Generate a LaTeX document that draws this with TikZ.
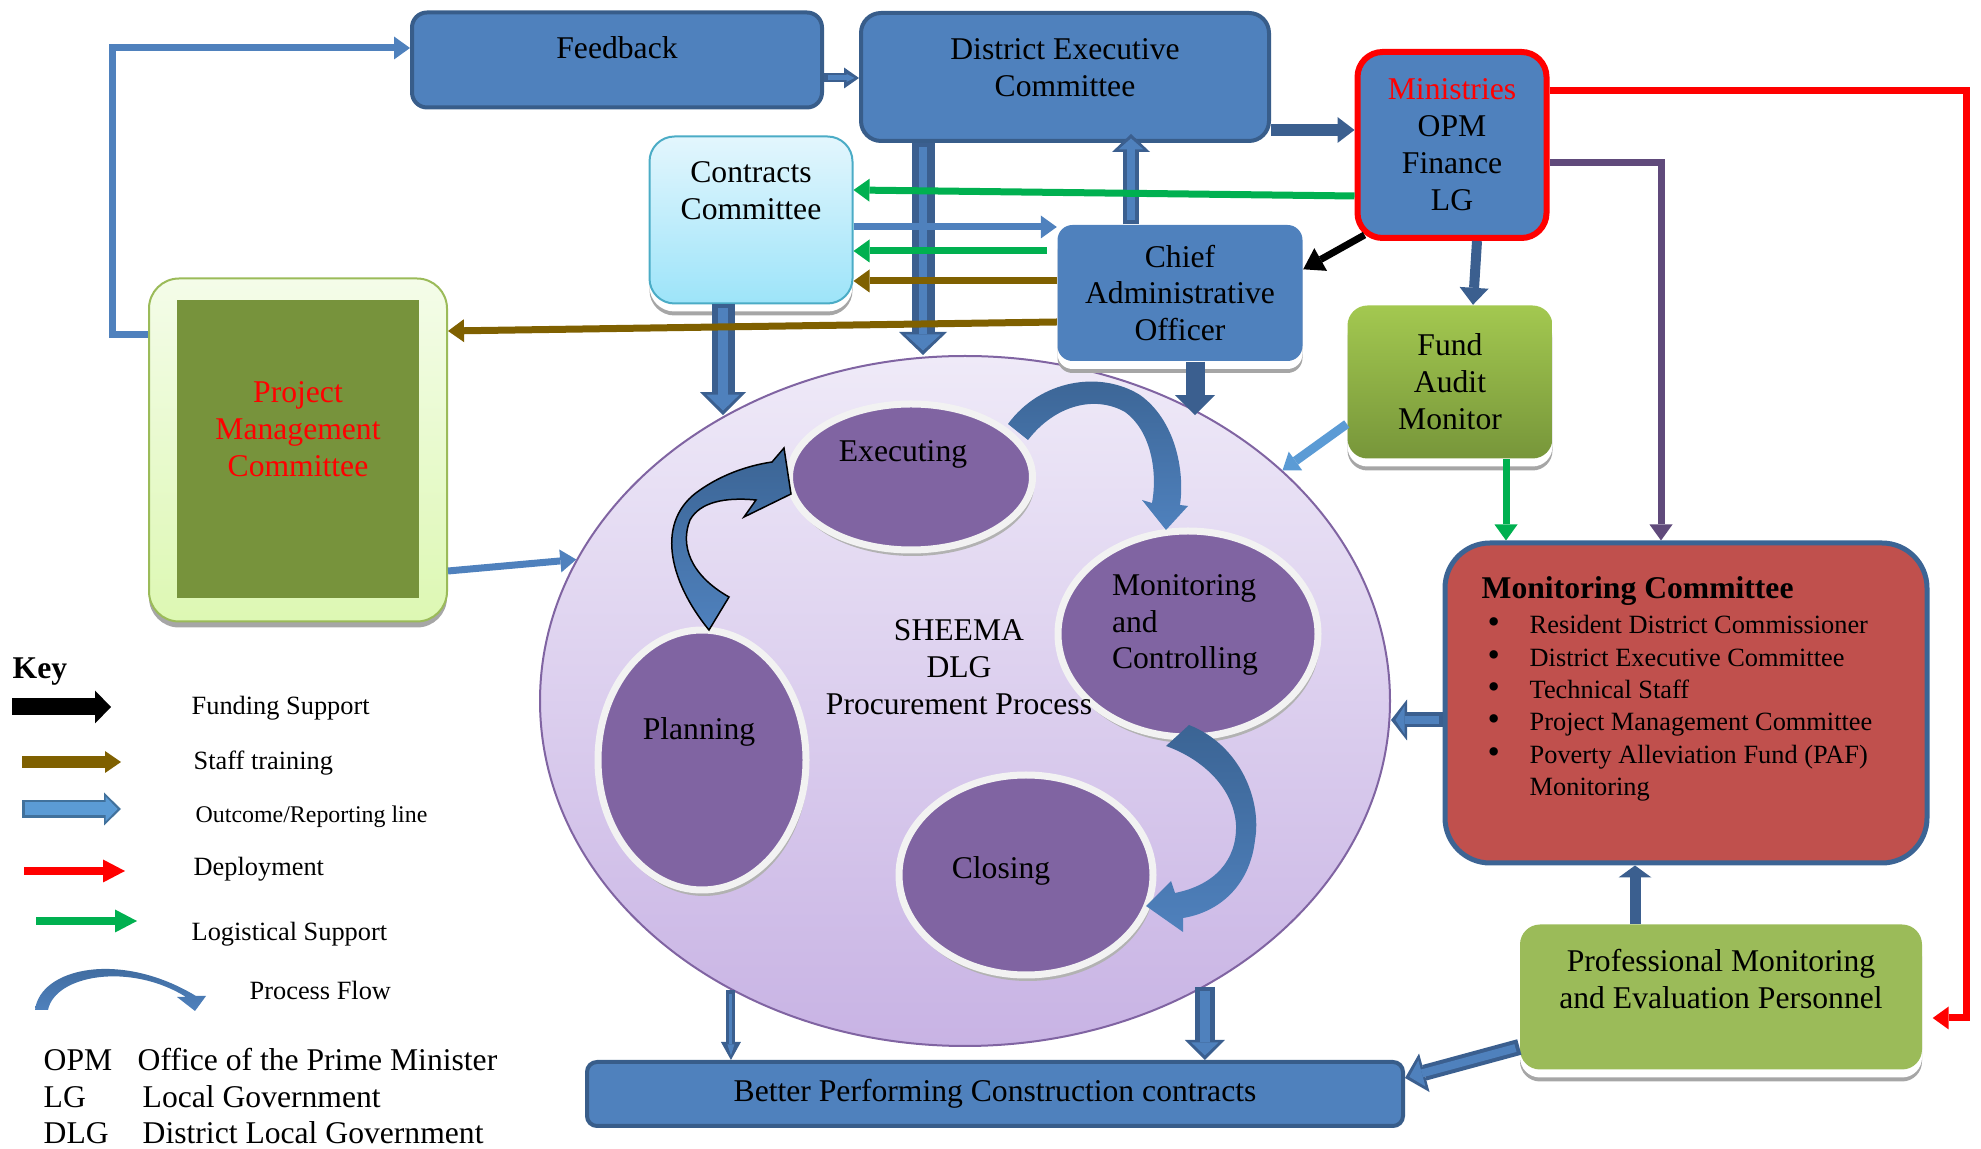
\documentclass[tikz,border=0pt]{standalone}
\usepackage{fontspec}
\setmainfont{Liberation Serif}
\usetikzlibrary{arrows.meta, shapes.geometric, shadows, calc, positioning}
\definecolor{boxblue}{HTML}{4F81BD}
\definecolor{boxedge}{HTML}{385D8A}
\definecolor{arrdark}{HTML}{3B5F8F}
\definecolor{arrlight}{HTML}{5B9BD5}
\definecolor{keyedge}{HTML}{41719C}
\definecolor{flowdark}{HTML}{3B6494}
\definecolor{logreen}{HTML}{00B050}
\definecolor{stbrown}{HTML}{7F6000}
\definecolor{mpurple}{HTML}{604A7B}
\definecolor{procviolet}{HTML}{8064A2}
\definecolor{mcred}{HTML}{C0504D}
\definecolor{mcedge}{HTML}{3C6494}
\definecolor{olivegr}{HTML}{77933C}
\definecolor{leafgr}{HTML}{9BBB59}
\definecolor{cctop}{HTML}{E3F6FD}
\definecolor{ccbot}{HTML}{9DE4F9}
\definecolor{ccedge}{HTML}{4BACC6}
\definecolor{fambright}{HTML}{A3C850}
\definecolor{famdark}{HTML}{77963A}
\definecolor{pmctop}{HTML}{F4FCE9}
\definecolor{pmcbot}{HTML}{DDF8B3}
\definecolor{sheematop}{HTML}{EFEAF8}
\definecolor{sheemabot}{HTML}{C8B3E4}
\newcommand\mainsize{\fontsize{9}{10.5}\selectfont}
\newcommand\keysize{\fontsize{7.5}{9}\selectfont}
\newcommand\mcbullet{\hspace*{0.6mm}\makebox[4.2mm][l]{\fontsize{10}{9.2}\selectfont\textbullet}}
\tikzset{
  % blue rounded boxes
  bluebox/.style={draw=boxedge, line width=0.4mm, fill=boxblue, rounded corners=2mm, align=center},
  % boxes lifted by a white rim and a grey shadow
  liftbox/.style={rounded corners=2mm, align=center,
    drop shadow={shadow xshift=0mm, shadow yshift=-1.2mm, fill=black!35, opacity=1},
    drop shadow={shadow xshift=0mm, shadow yshift=-0.8mm, fill=white, opacity=1}},
  boxtxt/.style={align=center, inner sep=0pt},
  % phases of the procurement process
  phase/.style={ellipse, fill=procviolet, draw=black!5, line width=0.7mm,
    drop shadow={shadow xshift=0.2mm, shadow yshift=-0.6mm, fill=black!30, opacity=1}},
  procarrow/.style={top color=flowdark, bottom color=boxblue},
  % plain connectors
  link/.style={line width=0.7mm, -{Triangle[length=1.6mm, width=2.3mm, line width=0pt]}},
  % key
  keylbl/.style={font=\keysize, inner sep=0pt, anchor=west},
}

\begin{document}
\begin{tikzpicture}[x=0.1mm, y=-0.1mm, every node/.style={font=\mainsize}]
  \useasboundingbox (0,0) rectangle (1981,1149);
  % procurement process
  \node[ellipse, draw=procviolet, line width=0.2mm, top color=sheematop, bottom color=sheemabot,
    minimum width=85mm, minimum height=69mm] (sheema) at (965,701) {};
  \node[phase, minimum width=24.3mm, minimum height=14.6mm] (exe) at (911,477) {};
  \node[phase, minimum width=26mm, minimum height=20.6mm] (mon) at (1188,634) {};
  \node[phase, minimum width=20.8mm, minimum height=26mm] (pla) at (702,760) {};
  \node[phase, minimum width=25.4mm, minimum height=20mm] (clo) at (1026,875) {};
  % process flow
  \path[procarrow, draw=black, line width=0.15mm] (709,630) .. controls (668,580) and (655,520) .. (700,490)
    .. controls (720,476) and (745,466) .. (772,462) -- (784,448) -- (791,494) -- (744,517) -- (756,500)
    .. controls (725,497) and (700,502) .. (690,520) .. controls (680,545) and (690,575) .. (729,597) -- cycle;
  \path[procarrow] (1008,424) .. controls (1040,380) and (1100,370) .. (1140,395)
    .. controls (1175,420) and (1185,470) .. (1180,505) -- (1188,506) -- (1166,530) -- (1142,500) -- (1152,503)
    .. controls (1158,470) and (1150,430) .. (1125,412) .. controls (1095,395) and (1055,405) .. (1028,440) -- cycle;
  \path[procarrow] (1166,746) -- (1189,725) .. controls (1240,745) and (1262,800) .. (1255,840)
    .. controls (1250,885) and (1220,912) .. (1183,918) -- (1183,932) -- (1146,906) -- (1171,881) -- (1175,893)
    .. controls (1215,885) and (1237,860) .. (1236,825) .. controls (1234,790) and (1205,760) .. (1166,746) -- cycle;
  \node[boxtxt] (exetxt) at ([xshift=-0.8mm, yshift=2.3mm]exe.center) {Executing};
  \node[boxtxt, align=left] (montxt) at ([xshift=-0.3mm, yshift=0.9mm]mon.center) {Monitoring\\and\\Controlling};
  \node[boxtxt] (platxt) at ([xshift=-0.3mm, yshift=2.8mm]pla.center) {Planning};
  \node[boxtxt] (clotxt) at ([xshift=-2.5mm, yshift=0.4mm]clo.center) {Closing};
  \node[boxtxt] (ptitle) at ([xshift=-0.6mm, yshift=3.4mm]sheema.center) {SHEEMA\\DLG\\Procurement Process};

  % boxes
  \node[bluebox, minimum width=41mm, minimum height=9.5mm, rounded corners=1.5mm] (fbk) at (617,60) {};
  \node[boxtxt] (fbktxt) at ([yshift=1.2mm]fbk.center) {Feedback};
  \node[bluebox, minimum width=40.8mm, minimum height=12.8mm] (dec) at (1065,77) {};
  \node[boxtxt] (dectxt) at ([yshift=0.9mm]dec.center) {District Executive\\Committee};
  \node[bluebox, draw=red, line width=0.6mm, minimum width=18.9mm, minimum height=18.6mm,
    rounded corners=2.5mm] (min) at (1452,145) {{\color{red}Ministries}\\OPM\\Finance\\LG};
  \node[liftbox, fill=boxblue, minimum width=24.5mm, minimum height=13.6mm, rounded corners=1.5mm] (cao)
    at (1180,293) {Chief\\Administrative\\Officer};
  \node[liftbox, top color=fambright, bottom color=famdark, minimum width=20.5mm, minimum height=15.3mm] (fam)
    at (1450,382) {Fund\\Audit\\Monitor};
  \node[liftbox, draw=ccedge, line width=0.2mm, top color=cctop, bottom color=ccbot, minimum width=20.3mm,
    minimum height=16.7mm, rounded corners=2.5mm] (cc) at (751,220) {};
  \node[boxtxt] (cctxt) at ([yshift=2.9mm]cc.center) {Contracts\\Committee};
  \node[draw=leafgr, line width=0.2mm, top color=pmctop, bottom color=pmcbot, rounded corners=3mm,
    minimum width=29.8mm, minimum height=34.3mm,
    drop shadow={shadow xshift=0mm, shadow yshift=-0.6mm, fill=black!35, opacity=1}] (pmcbox) at (298,450) {};
  \node[fill=olivegr, minimum width=24.2mm, minimum height=29.8mm] (pmc) at (298,449) {};
  \node[boxtxt, text=red] (pmctxt) at ([yshift=2mm]pmc.center) {Project\\Management\\Committee};
  \node[draw=mcedge, line width=0.5mm, fill=mcred, rounded corners=4.5mm, minimum width=48.2mm,
    minimum height=32mm] (mc) at (1686,703) {};
  \node[anchor=base west, inner sep=0pt, font=\bfseries\mainsize] (mctitle) at (1481,599) {Monitoring Committee};
  \node[anchor=north west, inner sep=0pt, align=left, font=\fontsize{7.5}{9.2}\selectfont] (mcitems) at (1481,615)
    {\mcbullet Resident District Commissioner\\
     \mcbullet District Executive Committee\\
     \mcbullet Technical Staff\\
     \mcbullet Project Management Committee\\
     \mcbullet Poverty Alleviation Fund (PAF)\\
     \hspace*{4.8mm}Monitoring};
  \node[liftbox, fill=leafgr, minimum width=40.2mm, minimum height=14.5mm] (pmep) at (1721,997) {};
  \node[boxtxt] (pmeptxt) at ([yshift=1.8mm]pmep.center) {Professional Monitoring\\and Evaluation Personnel};
  \node[bluebox, minimum width=81.6mm, minimum height=6.4mm, rounded corners=1mm] (bpc) at (995,1094)
    {Better Performing Construction contracts};

  % ends of the block arrows
  \coordinate (decdn) at ([xshift=-14.2mm]dec.south);
  \coordinate (elldec) at (decdn |- sheema.north);
  \coordinate (caoup) at ([xshift=-4.9mm]cao.north);
  \coordinate (decbot) at ([yshift=0.9mm]caoup |- dec.south);
  \coordinate (ccdn) at ([xshift=-2.8mm]cc.south);
  \coordinate (ellcc) at (ccdn |- sheema.130);
  \coordinate (mcleft) at ([yshift=-1.7mm]mc.west);
  \coordinate (ellmc) at (mcleft -| sheema.east);
  \coordinate (pmepleft) at ([yshift=-5mm]pmep.west);
  \coordinate (bpcright) at ([yshift=1.6mm]bpc.east);
  \coordinate (ellbr) at (sheema.-50);
  \coordinate (bpctr) at (ellbr |- bpc.north);
  \coordinate (ellbl) at (sheema.-129);
  \coordinate (bpctl) at (ellbl |- bpc.north);
  \coordinate (fbkright) at ([yshift=-1.8mm]fbk.east);
  \coordinate (decleft) at (fbkright -| dec.west);
  \coordinate (decright) at ([yshift=-5.3mm]dec.east);
  \coordinate (minleft) at (decright -| min.west);
  \coordinate (caodn) at ([xshift=1.5mm]cao.south);
  \coordinate (ellcao) at (caodn |- sheema.50);
  \coordinate (minfund) at ([xshift=2.5mm]min.south);
  \coordinate (famin) at ([xshift=2.3mm]fam.north);
  \coordinate (pmepup) at ([xshift=-8.6mm]pmep.north);
  \coordinate (mcbot) at (pmepup |- mc.south);

  % outlined block arrows
  \foreach \src/\dst/\outw/\inw/\tipl/\tipw in {decdn/elldec/2.3mm/0.8mm/2.3mm/4.8mm,
      caoup/decbot/1.6mm/0.8mm/1.8mm/3.8mm, ccdn/ellcc/2.3mm/1mm/2.3mm/4.6mm,
      mcleft/ellmc/1.5mm/0.8mm/1.6mm/4.1mm, pmepleft/bpcright/1.6mm/0.8mm/2mm/4mm,
      ellbr/bpctr/2mm/1mm/2mm/4mm, ellbl/bpctl/0.9mm/0.3mm/1.8mm/2mm, fbkright/decleft/0.9mm/0.5mm/1.5mm/2.1mm} {
    \pgfmathsetlengthmacro\inl{\tipl-0.7mm}
    \pgfmathsetlengthmacro\inwd{\tipw-1.3mm}
    \draw[arrdark, line width=\outw, -{Triangle[length=\tipl, width=\tipw, line width=0pt]}] (\src) -- (\dst);
    \draw[boxblue, line width=\inw, shorten <=0.4mm, shorten >=0.45mm,
      -{Triangle[length=\inl, width=\inwd, line width=0pt]}] (\src) -- (\dst);
  }
  % solid block arrows
  \foreach \src/\dst/\shw/\tipl/\tipw in {decright/minleft/1.2mm/1.7mm/2.6mm, caodn/ellcao/1.9mm/2mm/4mm,
      minfund/famin/1mm/1.7mm/2.9mm, pmepup/mcbot/1.1mm/1.2mm/3.3mm}
    \draw[arrdark, line width=\shw, -{Triangle[length=\tipl, width=\tipw, line width=0pt]}] (\src) -- (\dst);

  % thin connectors
  \draw[link, logreen] ([yshift=-5.1mm]min.west) -- ([yshift=3mm]cc.east);
  \draw[link, boxblue] ([yshift=-0.7mm]cc.east) -- ([yshift=-0.7mm]cc.east -| cao.west);
  \draw[link, logreen, shorten <=1mm] ([yshift=4.2mm]cao.west) -- ([yshift=4.2mm]cao.west -| cc.east);
  \draw[link, stbrown] ([yshift=1.2mm]cao.west) -- ([yshift=1.2mm]cao.west -| cc.east);
  \draw[link, stbrown] ([yshift=-2.9mm]cao.west) -- ([yshift=11.9mm]pmcbox.east);
  \draw[link, black, -{Triangle[length=2mm, width=2.6mm, line width=0pt]}]
    ([shift={(1mm,0.6mm)}]min.south west) -- ([yshift=-4.5mm]cao.north east);
  \draw[link, mpurple] ([yshift=-1.8mm]min.east) -| ([xshift=-2.5mm]mc.north);
  \draw[link, red, shorten >=1mm] ([yshift=5.4mm]min.east) -- ++(417,0) |- ([yshift=-2.1mm]pmep.east);
  \draw[link, boxblue] ([yshift=11.5mm]pmcbox.west) -- ++(-36,0) |- ([yshift=1.2mm]fbk.west);
  \draw[link, arrlight, line width=0.9mm] ([yshift=-4.2mm]fam.west) -- (sheema.36);
  \draw[link, logreen] ([xshift=5.6mm]fam.south) -- ([xshift=5.6mm]fam.south |- mc.north);
  \draw[link, boxblue] ([yshift=-12.1mm]pmcbox.east) -- (sheema.160);

  % key
  \node[anchor=west, inner sep=0pt, font=\bfseries\mainsize] (key) at (12,672) {Key};
  \foreach \n/\ax/\ay/\tx/\ty/\txt in {fund/12/707/191/708/Funding Support, staff/22/762/193/763/Staff training,
      outc/22/809/195/817/{\fontsize{6.8}{8}\selectfont Outcome/Reporting line}, depl/24/871/193/869/Deployment,
      logi/36/921/191/934/Logistical Support, flow/35/1010/249/990/Process Flow} {
    \coordinate (k\n) at (\ax,\ay);
    \node[keylbl] (t\n) at (\tx,\ty) {\txt};
  }
  \draw[black, line width=1.7mm, -{Triangle[length=1.6mm, width=3.3mm, line width=0pt]}] (kfund) -- ++(99,0);
  \draw[stbrown, line width=1.2mm, -{Triangle[length=1.6mm, width=2.2mm, line width=0pt]}] (kstaff) -- ++(99,0);
  \draw[keyedge, line width=1.8mm, -{Triangle[length=1.7mm, width=3.3mm, line width=0pt]}] (koutc) -- ++(99,0);
  \draw[arrlight, line width=1.3mm, shorten <=0.25mm, shorten >=0.35mm,
    -{Triangle[length=1.2mm, width=2.5mm, line width=0pt]}] (koutc) -- ++(99,0);
  \draw[red, line width=0.8mm, -{Triangle[length=2.2mm, width=2.3mm, line width=0pt]}] (kdepl) -- ++(101,0);
  \draw[logreen, line width=0.8mm, -{Triangle[length=2.2mm, width=2.3mm, line width=0pt]}] (klogi) -- ++(101,0);
  \path[procarrow] (kflow) .. controls (40,968) and (120,950) .. (196,996) -- (206,996) -- (195,1011)
    -- (177,997) -- (186,997) .. controls (130,962) and (55,975) .. (48,1010) -- cycle;
  \foreach \abb/\full/\fx/\ty [count=\i] in {OPM/Office of the Prime Minister/137/1060,
      LG/Local Government/142/1097, DLG/District Local Government/142/1133} {
    \node[anchor=west, inner sep=0pt] (abb\i) at (43,\ty) {\abb};
    \node[anchor=west, inner sep=0pt] (abbtxt\i) at (\fx,\ty) {\full};
  }
\end{tikzpicture}
\end{document}
